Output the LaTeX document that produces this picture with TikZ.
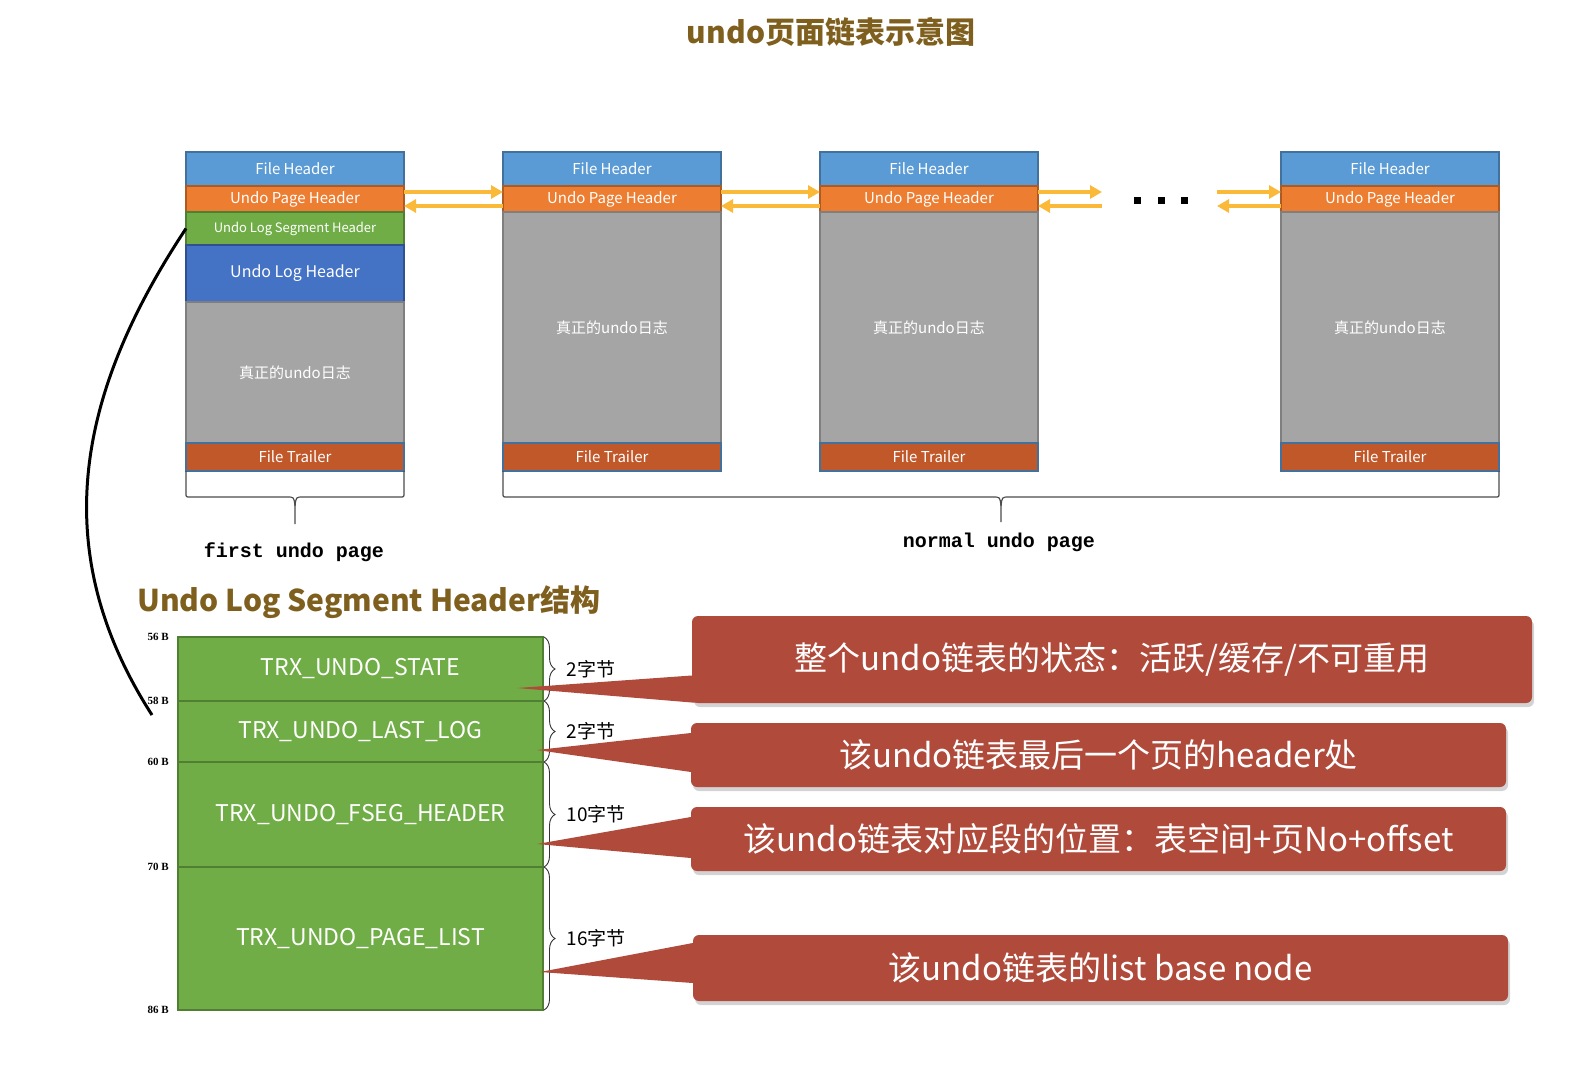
\documentclass[tikz,border=0pt]{standalone}
\usepackage{fontspec}
\setmainfont{Noto Sans CJK SC}
\newfontfamily\pagefont{Liberation Mono}
\newfontfamily\offfont{Liberation Serif}
\usepackage{xcolor}
\usetikzlibrary{arrows.meta, positioning, decorations.pathreplacing, shadows}

\definecolor{fhblue}{HTML}{5B9BD5}
\definecolor{fhblueD}{HTML}{41719C}
\definecolor{uporange}{HTML}{ED7D31}
\definecolor{uporangeD}{HTML}{AE5A21}
\definecolor{lsgreen}{HTML}{70AD47}
\definecolor{lsgreenD}{HTML}{507E32}
\definecolor{lhblue}{HTML}{4472C4}
\definecolor{lhblueD}{HTML}{2F528F}
\definecolor{bodygray}{HTML}{A5A5A5}
\definecolor{bodygrayD}{HTML}{7F7F7F}
\definecolor{trlred}{HTML}{C0582A}
\definecolor{linkyellow}{HTML}{FBB93A}
\definecolor{titlebrown}{HTML}{7F5F1E}
\definecolor{calred}{HTML}{B04A3B}

\tikzset{
  seg/.style={
    rectangle, inner sep=0pt, outer sep=0pt, line width=1.2pt,
    minimum width=218pt, text=white,
    font=\fontsize{15}{18}\selectfont,
  },
  fhdr/.style={seg, fill=fhblue, draw=fhblueD, minimum height=34pt},
  uphdr/.style={seg, fill=uporange, draw=uporangeD, minimum height=26pt},
  lsghdr/.style={seg, fill=lsgreen, draw=lsgreenD, minimum height=33pt,
                 font=\fontsize{13}{16}\selectfont},
  loghdr/.style={seg, fill=lhblue, draw=lhblueD, minimum height=57pt,
                 font=\fontsize{16}{19}\selectfont},
  body/.style={seg, fill=bodygray, draw=bodygrayD},
  trl/.style={seg, fill=trlred, draw=fhblueD, minimum height=28pt},
  link/.style={draw=linkyellow, line width=3.5pt, -{Triangle[length=12pt, width=13pt]}},
  brc/.style={draw=black!70, line width=1.2pt},
}

\begin{document}
\begin{tikzpicture}[
  x=1pt, y=-1pt,
  fld/.style={rectangle, inner sep=0pt, outer sep=0pt, fill=lsgreen, draw=lsgreenD,
              line width=1.5pt, minimum width=365pt, text=white,
              font=\fontsize{23}{27}\selectfont},
  off/.style={anchor=east, inner sep=0pt, font=\offfont\bfseries\fontsize{11}{13}\selectfont},
  rbrace/.style={decorate, decoration={brace, amplitude=11pt}, draw=black!80, line width=0.9pt},
  callout/.style={rectangle, rounded corners=6pt, inner sep=0pt, fill=calred, text=white,
                  font=\fontsize{33}{39}\selectfont,
                  drop shadow={opacity=0.35, shadow xshift=2pt, shadow yshift=-4pt}},
  ttl/.style={text=titlebrown, font=\bfseries\fontsize{30}{36}\selectfont, inner sep=0pt},
  pglbl/.style={font=\pagefont\bfseries\fontsize{20}{24}\selectfont, inner sep=0pt},
]
  \useasboundingbox (0,0) rectangle (1582,1070);

  \node[ttl] (title) at (831,32) {undo页面链表示意图};

  % first undo page
  \node[fhdr] (a1) at (295,169) {File Header};
  \node[uphdr, below=0pt of a1]  (a2) {Undo Page Header};
  \node[lsghdr, below=0pt of a2] (a3) {Undo Log Segment Header};
  \node[loghdr, below=0pt of a3] (a4) {Undo Log Header};
  \node[body, minimum height=141pt, below=0pt of a4] (a5) {真正的undo日志};
  \node[trl, below=0pt of a5]    (a6) {File Trailer};

  % normal undo pages
  \foreach \nm/\cx in {b/612, c/929, d/1390} {
    \node[fhdr] (\nm1) at (\cx,169) {File Header};
    \node[uphdr, below=0pt of \nm1] (\nm2) {Undo Page Header};
    \node[body, minimum height=231pt, below=0pt of \nm2] (\nm3) {真正的undo日志};
    \node[trl, below=0pt of \nm3] (\nm4) {File Trailer};
  }

  % links between pages
  \coordinate (dl) at (1102,199);
  \coordinate (dr) at (1217,199);
  \draw[link] ([yshift=7pt]a2.east) -- ([yshift=7pt]b2.west);
  \draw[link] ([yshift=-7pt]b2.west) -- ([yshift=-7pt]a2.east);
  \draw[link] ([yshift=7pt]b2.east) -- ([yshift=7pt]c2.west);
  \draw[link] ([yshift=-7pt]c2.west) -- ([yshift=-7pt]b2.east);
  \draw[link] ([yshift=7pt]c2.east) -- ([yshift=7pt]dl);
  \draw[link] ([yshift=-7pt]dl) -- ([yshift=-7pt]c2.east);
  \draw[link] ([yshift=7pt]dr) -- ([yshift=7pt]d2.west);
  \draw[link] ([yshift=-7pt]d2.west) -- ([yshift=-7pt]dr);
  \foreach \dx in {1137,1161,1184}
    \fill (\dx-3.5,196.5) rectangle ++(7,7);

  % braces under the pages
  \draw[brc] (a6.south west) -- (186,493) .. controls (186,497) .. (190,497) -- (287,497)
    .. controls (294,497) .. (295,506) -- (295,524);
  \draw[brc] (a6.south east) -- (404,493) .. controls (404,497) .. (400,497) -- (303,497)
    .. controls (296,497) .. (295,506);
  \draw[brc] (b4.south west) -- (503,493) .. controls (503,497) .. (507,497) -- (993,497)
    .. controls (1000,497) .. (1001,506) -- (1001,522);
  \draw[brc] (d4.south east) -- (1499,493) .. controls (1499,497) .. (1495,497) -- (1009,497)
    .. controls (1002,497) .. (1001,506);
  \node[pglbl] (fl) at (294,552) {first undo page};
  \node[pglbl] (nl) at (999,542) {normal undo page};

  % Undo Log Segment Header
  \node[ttl, anchor=west] (sub) at (137,602) {Undo Log Segment Header结构};
  \node[fld, minimum height=64pt] (r1) at (360.5,669) {TRX\_UNDO\_STATE};
  \node[fld, minimum height=61pt, below=0pt of r1]  (r2) {TRX\_UNDO\_LAST\_LOG};
  \node[fld, minimum height=105pt, below=0pt of r2] (r3) {TRX\_UNDO\_FSEG\_HEADER};
  \node[fld, minimum height=143pt, below=0pt of r3] (r4) {TRX\_UNDO\_PAGE\_LIST};

  \node[off] at ([xshift=-9pt]r1.north west) {56 B};
  \node[off] at ([xshift=-9pt]r1.south west) {58 B};
  \node[off] at ([xshift=-9pt]r2.south west) {60 B};
  \node[off] at ([xshift=-9pt]r3.south west) {70 B};
  \node[off] at ([xshift=-9pt]r4.south west) {86 B};

  \foreach \r/\t in {r1/2字节, r2/2字节, r3/10字节, r4/16字节}
    \draw[rbrace] ([xshift=1pt]\r.north east) -- ([xshift=1pt]\r.south east)
      node[midway, right=22pt, inner sep=0pt, font=\fontsize{19}{23}\selectfont] {\t};

  % link from first page to the structure
  \coordinate (lnk) at (152,715);
  \draw[line width=3pt] (a3.west) .. controls (77,393) and (46,550) .. (lnk);

  % callouts
  \node[callout, minimum width=840pt, minimum height=87pt] (k1) at (1112,659.5)
    {整个undo链表的状态：活跃/缓存/不可重用};
  \node[callout, minimum width=815pt, minimum height=64pt] (k2) at (1098.5,755)
    {该undo链表最后一个页的header处};
  \node[callout, minimum width=815pt, minimum height=64pt] (k3) at (1098.5,839)
    {该undo链表对应段的位置：表空间+页No+offset};
  \node[callout, minimum width=815pt, minimum height=66pt] (k4) at (1100.5,968)
    {该undo链表的list base node};

  \coordinate (t1) at (517,688);
  \coordinate (t2) at (537,750);
  \coordinate (t3) at (537,844);
  \coordinate (t4) at (540,972);
  \foreach \k/\tp/\ua/\ub in {k1/t1/-16/-43, k2/t2/22/-17, k3/t3/22/-19, k4/t4/25/-15}
    \fill[calred] (\tp) -- ([yshift=\ua pt]\k.west) -- ([xshift=14pt, yshift=\ua pt]\k.west)
      -- ([xshift=14pt, yshift=\ub pt]\k.west) -- ([yshift=\ub pt]\k.west) -- cycle;

\end{tikzpicture}
\end{document}
